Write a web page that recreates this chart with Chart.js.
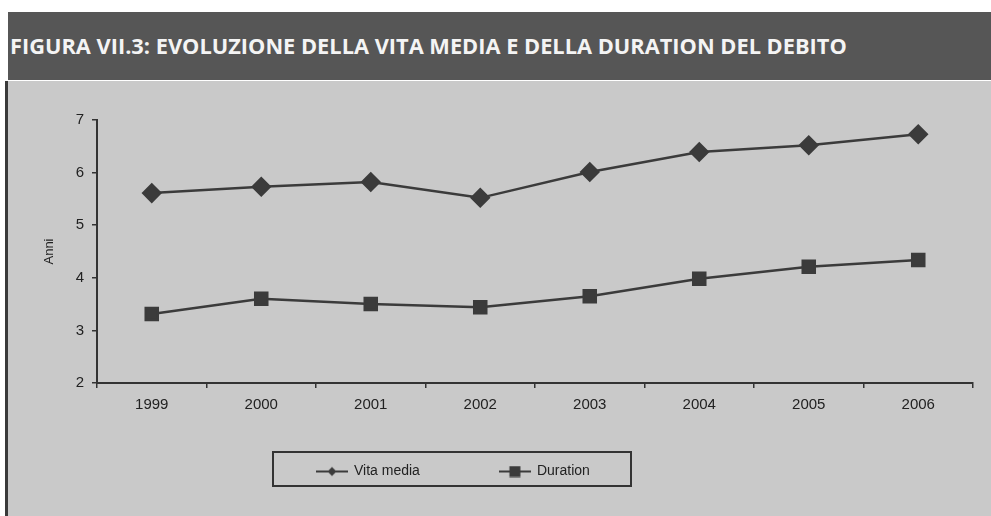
<!DOCTYPE html>
<html>
<head>
<meta charset="utf-8">
<script src="https://cdn.jsdelivr.net/npm/chart.js@4.4.1/dist/chart.umd.min.js"></script>
<style>
  html, body { margin: 0; padding: 0; background: #ffffff; }
  #wrap { position: relative; width: 991px; height: 516px; overflow: hidden; }
  #bar { position: absolute; left: 8px; top: 12px; width: 983px; height: 68px; background: #565656;
         color: #f4f4f4; font-family: "Open Sans", sans-serif; font-weight: 700; font-size: 21.8px;
         line-height: 68px; padding-left: 2px; box-sizing: border-box; white-space: nowrap; }
  #panel { position: absolute; left: 5px; top: 81px; width: 986px; height: 435px; background: #c9c9c9;
           border-left: 3px solid #3a3a3a; box-sizing: border-box; }
  #c { position: absolute; left: 0; top: 0; }
</style>
</head>
<body>
<div id="wrap">
  <div id="bar">FIGURA VII.3: EVOLUZIONE DELLA VITA MEDIA E DELLA DURATION DEL DEBITO</div>
  <div id="panel"></div>
  <canvas id="c" width="991" height="516"></canvas>
</div>
<script>
const years = ["1999", "2000", "2001", "2002", "2003", "2004", "2005", "2006"];
const vitaMedia = [5.61, 5.73, 5.82, 5.52, 6.01, 6.39, 6.52, 6.73];
const duration = [3.31, 3.60, 3.50, 3.44, 3.65, 3.98, 4.21, 4.34];
const seriesNames = ["Vita media", "Duration"];
const yTicks = [2, 3, 4, 5, 6, 7];

const lineColor = '#3b3b3b';
const fontFam = 'Liberation Sans, Arial, sans-serif';

function legendIcon(kind) {
  const cv = document.createElement('canvas');
  cv.width = 32; cv.height = 12;
  const g = cv.getContext('2d');
  g.strokeStyle = lineColor; g.lineWidth = 2;
  g.beginPath(); g.moveTo(0, 6); g.lineTo(32, 6); g.stroke();
  g.fillStyle = lineColor;
  if (kind === 'diamond') {
    g.beginPath(); g.moveTo(16, 1.5); g.lineTo(20.5, 6); g.lineTo(16, 10.5); g.lineTo(11.5, 6); g.closePath(); g.fill();
  } else {
    g.fillRect(10.5, 0.5, 11, 11);
  }
  return cv;
}
const icons = [legendIcon('diamond'), legendIcon('square')];

const legendBoxPlugin = {
  id: 'legendBox',
  afterLayout(chart) {
    const lg = chart.legend;
    if (!lg) return;
    const h = lg.bottom - lg.top;
    lg.left = 237; lg.right = 607; lg.width = 370;
    lg.top = 340; lg.bottom = lg.top + h;
  },
  afterDraw(chart) {
    const ctx = chart.ctx;
    ctx.save();
    ctx.strokeStyle = '#333';
    ctx.lineWidth = 2;
    ctx.strokeRect(273, 452, 358, 34);
    ctx.restore();
  }
};

new Chart(document.getElementById('c'), {
  type: 'line',
  data: {
    labels: years,
    datasets: [
      { label: seriesNames[0], data: vitaMedia, borderColor: lineColor, backgroundColor: lineColor,
        borderWidth: 2.5, pointStyle: 'rectRot', pointRadius: 8.5, pointHoverRadius: 8.5, tension: 0 },
      { label: seriesNames[1], data: duration, borderColor: lineColor, backgroundColor: lineColor,
        borderWidth: 2.5, pointStyle: 'rect', pointRadius: 8.5, pointHoverRadius: 8.5, tension: 0 }
    ]
  },
  plugins: [legendBoxPlugin],
  options: {
    responsive: false,
    animation: false,
    layout: { padding: { left: 0, right: 18, top: 120, bottom: 0 } },
    plugins: {
      title: { display: false },
      tooltip: { enabled: false },
      legend: {
        position: 'chartArea',
        labels: {
          usePointStyle: true,
          pointStyleWidth: 30,
          padding: 80,
          color: '#222',
          font: { family: fontFam, size: 14 },
          generateLabels(chart) {
            const items = Chart.defaults.plugins.legend.labels.generateLabels(chart);
            items.forEach((it, i) => { it.pointStyle = icons[i]; });
            return items;
          }
        }
      }
    },
    scales: {
      x: {
        offset: true,
        border: { color: '#333', width: 2 },
        grid: { offset: true, drawOnChartArea: false, drawTicks: true, tickLength: 5, color: '#333', lineWidth: 1.5 },
        ticks: { color: '#222', font: { family: fontFam, size: 15 }, padding: 8 },
        afterFit(s) { s.height = 133; }
      },
      y: {
        min: 2, max: 7,
        afterBuildTicks(s) { s.ticks = yTicks.map(v => ({ value: v })); },
        border: { color: '#333', width: 2 },
        grid: { drawOnChartArea: false, drawTicks: true, tickLength: 5, color: '#333', lineWidth: 1.5 },
        ticks: { color: '#222', font: { family: fontFam, size: 15 }, padding: 8 },
        title: { display: true, text: 'Anni', color: '#222', font: { family: fontFam, size: 13 }, padding: { top: 42, bottom: 0 } },
        afterFit(s) { s.width = 97; }
      }
    }
  }
});
</script>
</body>
</html>
